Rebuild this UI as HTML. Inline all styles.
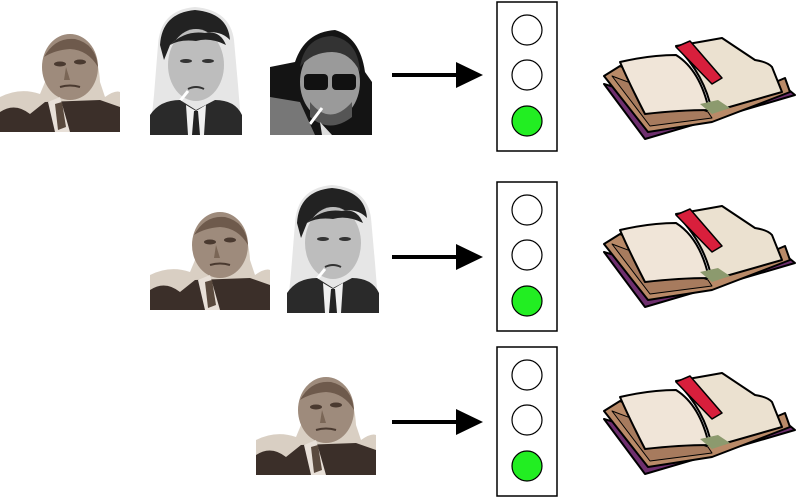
<!DOCTYPE html>
<html><head><style>
html,body{margin:0;padding:0;background:#fff;width:800px;height:498px;overflow:hidden}
svg{display:block}
</style></head><body>
<svg width="800" height="498" viewBox="0 0 800 498" xmlns="http://www.w3.org/2000/svg">
<defs>
<symbol id="borges" viewBox="0 0 120 110">
<path d="M0 75 Q20 65 40 72 L45 60 Q50 20 75 18 Q98 22 100 60 L105 75 Q115 68 120 70 L120 110 L0 110Z" fill="#d9cfc3"/>
<path d="M0 90 Q15 80 30 92 L45 80 L100 78 L120 85 L120 110 L0 110Z" fill="#3b2f29"/>
<ellipse cx="70" cy="45" rx="28" ry="33" fill="#9e8b7c"/>
<path d="M44 35 Q55 15 75 17 Q96 22 98 45 Q88 28 70 27 Q55 28 44 35Z" fill="#6e5a4c"/>
<ellipse cx="60" cy="42" rx="6" ry="2.5" fill="#4a3a30"/>
<ellipse cx="80" cy="40" rx="6" ry="2.5" fill="#4a3a30"/>
<path d="M66 45 L70 58 L64 58Z" fill="#7a6656"/>
<path d="M60 65 Q70 62 80 65" stroke="#4a3a30" stroke-width="2" fill="none"/>
<path d="M48 80 L60 75 L70 110 L55 110Z" fill="#e8e0d8"/>
<path d="M55 82 L62 80 L66 105 L58 108Z" fill="#5a4a3e"/>
</symbol>
<symbol id="cortazar" viewBox="0 0 92 130">
<path d="M8 40 Q10 5 45 2 Q80 5 84 35 L88 80 L92 130 L0 130 L4 90Z" fill="#e6e6e6"/>
<path d="M10 40 Q12 8 45 5 Q78 8 80 35 Q70 25 55 28 Q35 25 20 40 L14 55Z" fill="#222"/>
<ellipse cx="46" cy="60" rx="28" ry="36" fill="#bdbdbd"/>
<path d="M20 40 Q35 25 55 28 Q70 25 76 40 Q60 32 46 36 Q30 34 20 40Z" fill="#222"/>
<ellipse cx="36" cy="56" rx="6" ry="2" fill="#333"/>
<ellipse cx="58" cy="56" rx="6" ry="2" fill="#333"/>
<path d="M38 84 Q46 80 54 84" stroke="#333" stroke-width="2" fill="none"/>
<path d="M38 86 L30 96" stroke="#fff" stroke-width="3"/>
<path d="M0 110 Q10 95 30 95 L46 105 L65 95 Q85 95 92 110 L92 130 L0 130Z" fill="#2a2a2a"/>
<path d="M36 100 L46 106 L56 100 L54 130 L38 130Z" fill="#f0f0f0"/>
<path d="M44 106 L48 106 L50 130 L42 130Z" fill="#222"/>
</symbol>
<symbol id="eco" viewBox="0 0 102 113">
<path d="M0 45 L25 40 Q35 10 65 8 Q90 15 95 50 L102 60 L102 113 L0 113Z" fill="#141414"/>
<ellipse cx="60" cy="60" rx="30" ry="38" fill="#9a9a9a"/>
<path d="M30 45 Q35 15 62 14 Q88 18 90 50 Q80 30 62 30 Q42 30 30 45Z" fill="#333"/>
<rect x="34" y="52" width="24" height="16" rx="4" fill="#111"/>
<rect x="62" y="52" width="24" height="16" rx="4" fill="#111"/>
<path d="M40 80 Q60 105 82 80 L82 95 Q60 112 40 95Z" fill="#555"/>
<path d="M52 86 L40 102" stroke="#fff" stroke-width="3"/>
<path d="M0 75 L30 80 L45 113 L0 113Z" fill="#777"/>
<path d="M50 100 L62 113 L52 113Z" fill="#ddd"/>
</symbol>
<g id="book" stroke="#000" stroke-linejoin="round">
<path d="M604 84 L645 139 L795 95 L784 86 L712 116Z" fill="#6e2f6e" stroke-width="2"/>
<path d="M604 76 L620 66 L710 110 L785 78 L790 92 L712 122 L648 132Z" fill="#b98a68" stroke-width="2"/>
<path d="M612 76 L650 126 L712 118 L708 112Z" fill="#a77b5e" stroke-width="1"/>
<path d="M620 62 Q650 55 676 55 Q700 70 709 110 Q680 110 645 114 Q630 85 620 62Z" fill="#f0e5d8" stroke-width="2"/>
<path d="M676 46 Q700 42 722 38 Q740 50 755 60 Q768 62 772 67 L782 92 L712 112 Q705 75 676 46Z" fill="#ebe1d0" stroke-width="2"/>
<path d="M676 47 L690 41 L722 78 L712 84Z" fill="#d81f3c" stroke-width="1.5"/>
<path d="M700 104 L718 100 L730 108 L712 114Z" fill="#8c9a6e" stroke="none"/>
</g>
<symbol id="light" viewBox="0 0 62 151">
<rect x="1" y="1" width="60" height="149" fill="#fff" stroke="#000" stroke-width="1.5"/>
<circle cx="31" cy="29" r="15" fill="#fff" stroke="#000" stroke-width="1.2"/>
<circle cx="31" cy="74" r="15" fill="#fff" stroke="#000" stroke-width="1.2"/>
<circle cx="31" cy="120" r="15" fill="#22ee22" stroke="#000" stroke-width="1.2"/>
</symbol>
</defs>

<use href="#borges" x="0" y="22" width="120" height="110"/>
<use href="#cortazar" x="150" y="5" width="92" height="130"/>
<use href="#eco" x="270" y="22" width="102" height="113"/>

<use href="#borges" x="150" y="200" width="120" height="110"/>
<use href="#cortazar" x="287" y="183" width="92" height="130"/>

<use href="#borges" x="256" y="365" width="120" height="110"/>

<g stroke="#000" stroke-width="4">
<line x1="392" y1="75" x2="460" y2="75"/>
<line x1="392" y1="257" x2="460" y2="257"/>
<line x1="392" y1="422" x2="460" y2="422"/>
</g>
<g fill="#000">
<path d="M456 62 L483 75 L456 88Z"/>
<path d="M456 244 L483 257 L456 270Z"/>
<path d="M456 409 L483 422 L456 435Z"/>
</g>

<use href="#light" x="496" y="1" width="62" height="151"/>
<use href="#light" x="496" y="181" width="62" height="151"/>
<use href="#light" x="496" y="346" width="62" height="151"/>

<use href="#book" x="0" y="0"/>
<use href="#book" x="0" y="168"/>
<use href="#book" x="0" y="335"/>
</svg>
</body></html>
